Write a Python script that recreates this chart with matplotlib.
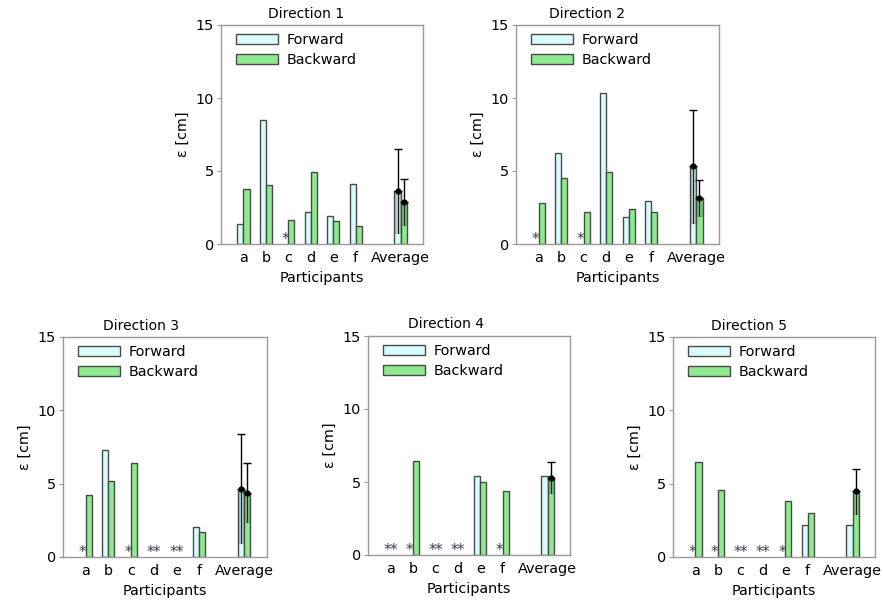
import numpy as np
import matplotlib
matplotlib.use("Agg")
import matplotlib.pyplot as plt
from matplotlib.patches import Patch

nan = np.nan
participants = ['a', 'b', 'c', 'd', 'e', 'f']
avg_label = 'Average'
directions = ['Direction 1', 'Direction 2', 'Direction 3', 'Direction 4', 'Direction 5']

forward = [
    [1.4, 8.5, nan, 2.2, 1.95, 4.1],
    [nan, 6.22, nan, 10.35, 1.83, 2.92],
    [nan, 7.27, nan, nan, nan, 2.02],
    [nan, nan, nan, nan, 5.43, nan],
    [nan, nan, nan, nan, nan, 2.17],
]
backward = [
    [3.75, 4.05, 1.65, 4.95, 1.55, 1.25],
    [2.8, 4.52, 2.17, 4.93, 2.4, 2.17],
    [4.2, 5.16, 6.41, nan, nan, 1.68],
    [nan, 6.47, nan, nan, 4.99, 4.4],
    [6.5, 4.56, nan, nan, 3.83, 3.03],
]
fwd_mean = [3.62, 5.32, 4.66, 5.43, 2.17]
fwd_sd = [2.9, 3.86, 3.72, nan, nan]
bwd_mean = [2.9, 3.15, 4.38, 5.28, 4.47]
bwd_sd = [1.57, 1.26, 2.0, 1.06, 1.52]

FWD_C = '#d9fbfb'
BWD_C = '#8eea8e'
EDGE = '#4a4a4a'
SPINE = '#9a9a9a'

W, H = 883, 602
# axes boxes in pixels: left, top, right, bottom
boxes = [
    (221, 25, 423, 244),
    (516, 25, 719, 244),
    (63, 337, 267, 557),
    (368, 336, 570, 555),
    (673, 337, 875, 557),
]
title_x = [0.42, 0.35, 0.38, 0.385, 0.377]

plt.rcParams['font.family'] = ['DejaVu Sans']
fig = plt.figure(figsize=(W / 100, H / 100), dpi=100)

bw = 0.27
xpos = np.arange(1, len(participants) + 1)
xavg = len(participants) + 2
FS = 10.4

for i, (l, t, r, b) in enumerate(boxes):
    ax = fig.add_axes([l / W, 1 - b / H, (r - l) / W, (b - t) / H])
    f = np.array(forward[i])
    bk = np.array(backward[i])
    ax.bar(xpos - bw / 2, np.nan_to_num(f), bw, color=FWD_C, edgecolor=EDGE, linewidth=1, zorder=2)
    ax.bar(xpos + bw / 2, np.nan_to_num(bk), bw, color=BWD_C, edgecolor=EDGE, linewidth=1, zorder=2)
    # hide zero-height bars for missing data
    for p in ax.patches:
        if p.get_height() == 0:
            p.set_visible(False)
    # missing markers
    for j, x in enumerate(xpos):
        if np.isnan(f[j]):
            ax.text(x - bw / 2, 0.34, '*', ha='center', va='center', fontsize=11, color='#3a3a48', zorder=3)
        if np.isnan(bk[j]):
            ax.text(x + bw / 2, 0.34, '*', ha='center', va='center', fontsize=11, color='#3a3a48', zorder=3)
    # averages
    for (m, sd, dx, col) in [(fwd_mean[i], fwd_sd[i], -bw / 2, FWD_C), (bwd_mean[i], bwd_sd[i], bw / 2, BWD_C)]:
        ax.bar(xavg + dx, m, bw, color=col, edgecolor=EDGE, linewidth=1, zorder=2)
        if not np.isnan(sd):
            ax.bar(xavg + dx, sd, bw, bottom=m - sd, color='#303030', alpha=0.22, edgecolor=EDGE,
                   linewidth=0.8, zorder=3)
            ax.errorbar(xavg + dx, m, yerr=[[0], [sd]], fmt='o', color='black', ms=3.5,
                        elinewidth=1, capsize=3, capthick=1, zorder=4)
            ax.plot([xavg + dx, xavg + dx], [m - sd, m], color='#202020', lw=0.8, zorder=4)
    ax.set_xlim(0, 9)
    ax.set_ylim(0, 15)
    ax.set_yticks([0, 5, 10, 15])
    ax.set_xticks(list(xpos) + [xavg])
    ax.set_xticklabels(participants + [avg_label])
    ax.tick_params(axis='x', length=0, pad=5, labelsize=FS)
    ax.tick_params(axis='y', direction='out', length=3, color=SPINE, pad=2, labelsize=FS)
    for s in ax.spines.values():
        s.set_color(SPINE)
        s.set_linewidth(1)
    ax.set_xlabel('Participants', fontsize=FS, labelpad=4.5)
    ax.set_ylabel('ε [cm]', fontsize=FS, labelpad=4)
    ax.text(title_x[i], 1 + 11.5 / (b - t), directions[i], transform=ax.transAxes,
            ha='center', va='center', fontsize=10)
    handles = [Patch(facecolor=FWD_C, edgecolor=EDGE, linewidth=1),
               Patch(facecolor=BWD_C, edgecolor=EDGE, linewidth=1)]
    ax.legend(handles, ['Forward', 'Backward'], loc='upper left', bbox_to_anchor=(0.06, 0.975),
              frameon=False, fontsize=FS, handlelength=2.9, handleheight=0.7,
              handletextpad=0.6, labelspacing=0.42, borderpad=0.2, borderaxespad=0)

fig.savefig('out.png', dpi=100)
